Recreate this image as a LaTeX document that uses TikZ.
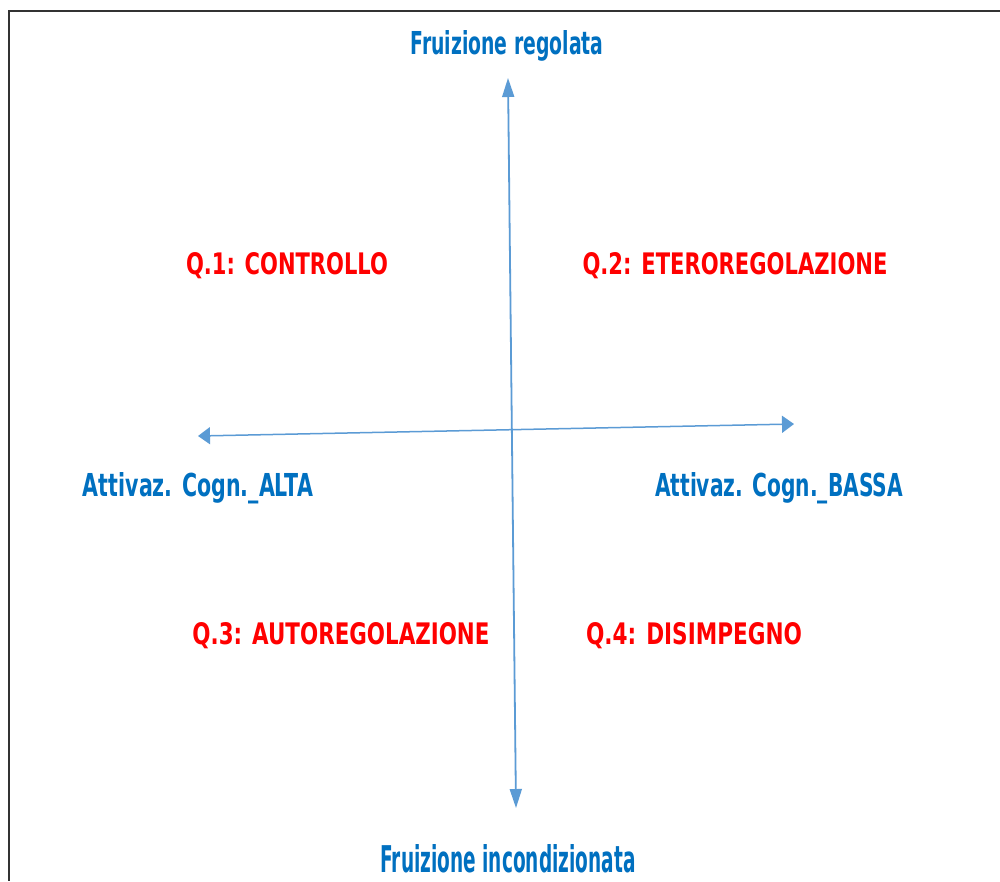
\documentclass[tikz,border=0pt]{standalone}
\usepackage{fontspec}
\setmainfont{DejaVu Sans}
\usetikzlibrary{arrows.meta}
\definecolor{txtblue}{HTML}{0070C0}
\definecolor{txtred}{HTML}{FF0000}
\definecolor{axisblue}{HTML}{5B9BD5}
\definecolor{framegray}{HTML}{333333}
\tikzset{
  axislabel/.style={anchor=base, inner sep=0pt, text=txtblue, font=\bfseries\fontsize{26}{30}\selectfont},
  quadlabel/.style={anchor=base, inner sep=0pt, text=txtred, font=\bfseries\fontsize{26}{30}\selectfont},
  axisline/.style={draw=axisblue, line width=1.8pt},
}
\newcommand{\fitwh}[3]{\resizebox{#1pt}{#2pt}{#3}}
\begin{document}
\begin{tikzpicture}[x=1pt,y=-1pt]
\useasboundingbox (0,0) rectangle (1000,881);
\fill[white] (0,0) rectangle (1000,881);
% frame
\coordinate (fTR) at (1000,11);
\coordinate (fTL) at (9,11);
\coordinate (fBL) at (9,881);
\draw[framegray, line width=2.2pt] (fTR) -- (fTL) -- (fBL);
% axes
\coordinate (vTop) at (508,78);
\coordinate (vBot) at (516,808);
\coordinate (hLeft) at (198,436);
\coordinate (hRight) at (794,424);
\draw[axisline, {Triangle[length=19pt,width=12pt]}-{Triangle[length=19pt,width=12pt]}] (vBot) -- (vTop);
\draw[axisline, line width=1.5pt, {Triangle[length=12pt,width=17pt]}-{Triangle[length=12pt,width=17pt]}] (hLeft) -- (hRight);
% labels
\node[axislabel] (reg) at (507,54) {\fitwh{193}{24}{Fruizione regolata}};
\node[axislabel] (inc) at (508,872) {\fitwh{255}{28}{Fruizione incondizionata}};
\node[axislabel] (alta) at (198,496) {\fitwh{230}{24}{Attivaz. Cogn.\_ALTA}};
\node[axislabel] (bassa) at (779,496) {\fitwh{248}{24}{Attivaz. Cogn.\_BASSA}};
\node[quadlabel] (q1) at (287,274) {\fitwh{202}{22}{Q.1: CONTROLLO}};
\node[quadlabel] (q2) at (735,274) {\fitwh{305}{22}{Q.2: ETEROREGOLAZIONE}};
\node[quadlabel] (q3) at (341,644) {\fitwh{297}{22}{Q.3: AUTOREGOLAZIONE}};
\node[quadlabel] (q4) at (694,644) {\fitwh{216}{22}{Q.4: DISIMPEGNO}};
\end{tikzpicture}
\end{document}
